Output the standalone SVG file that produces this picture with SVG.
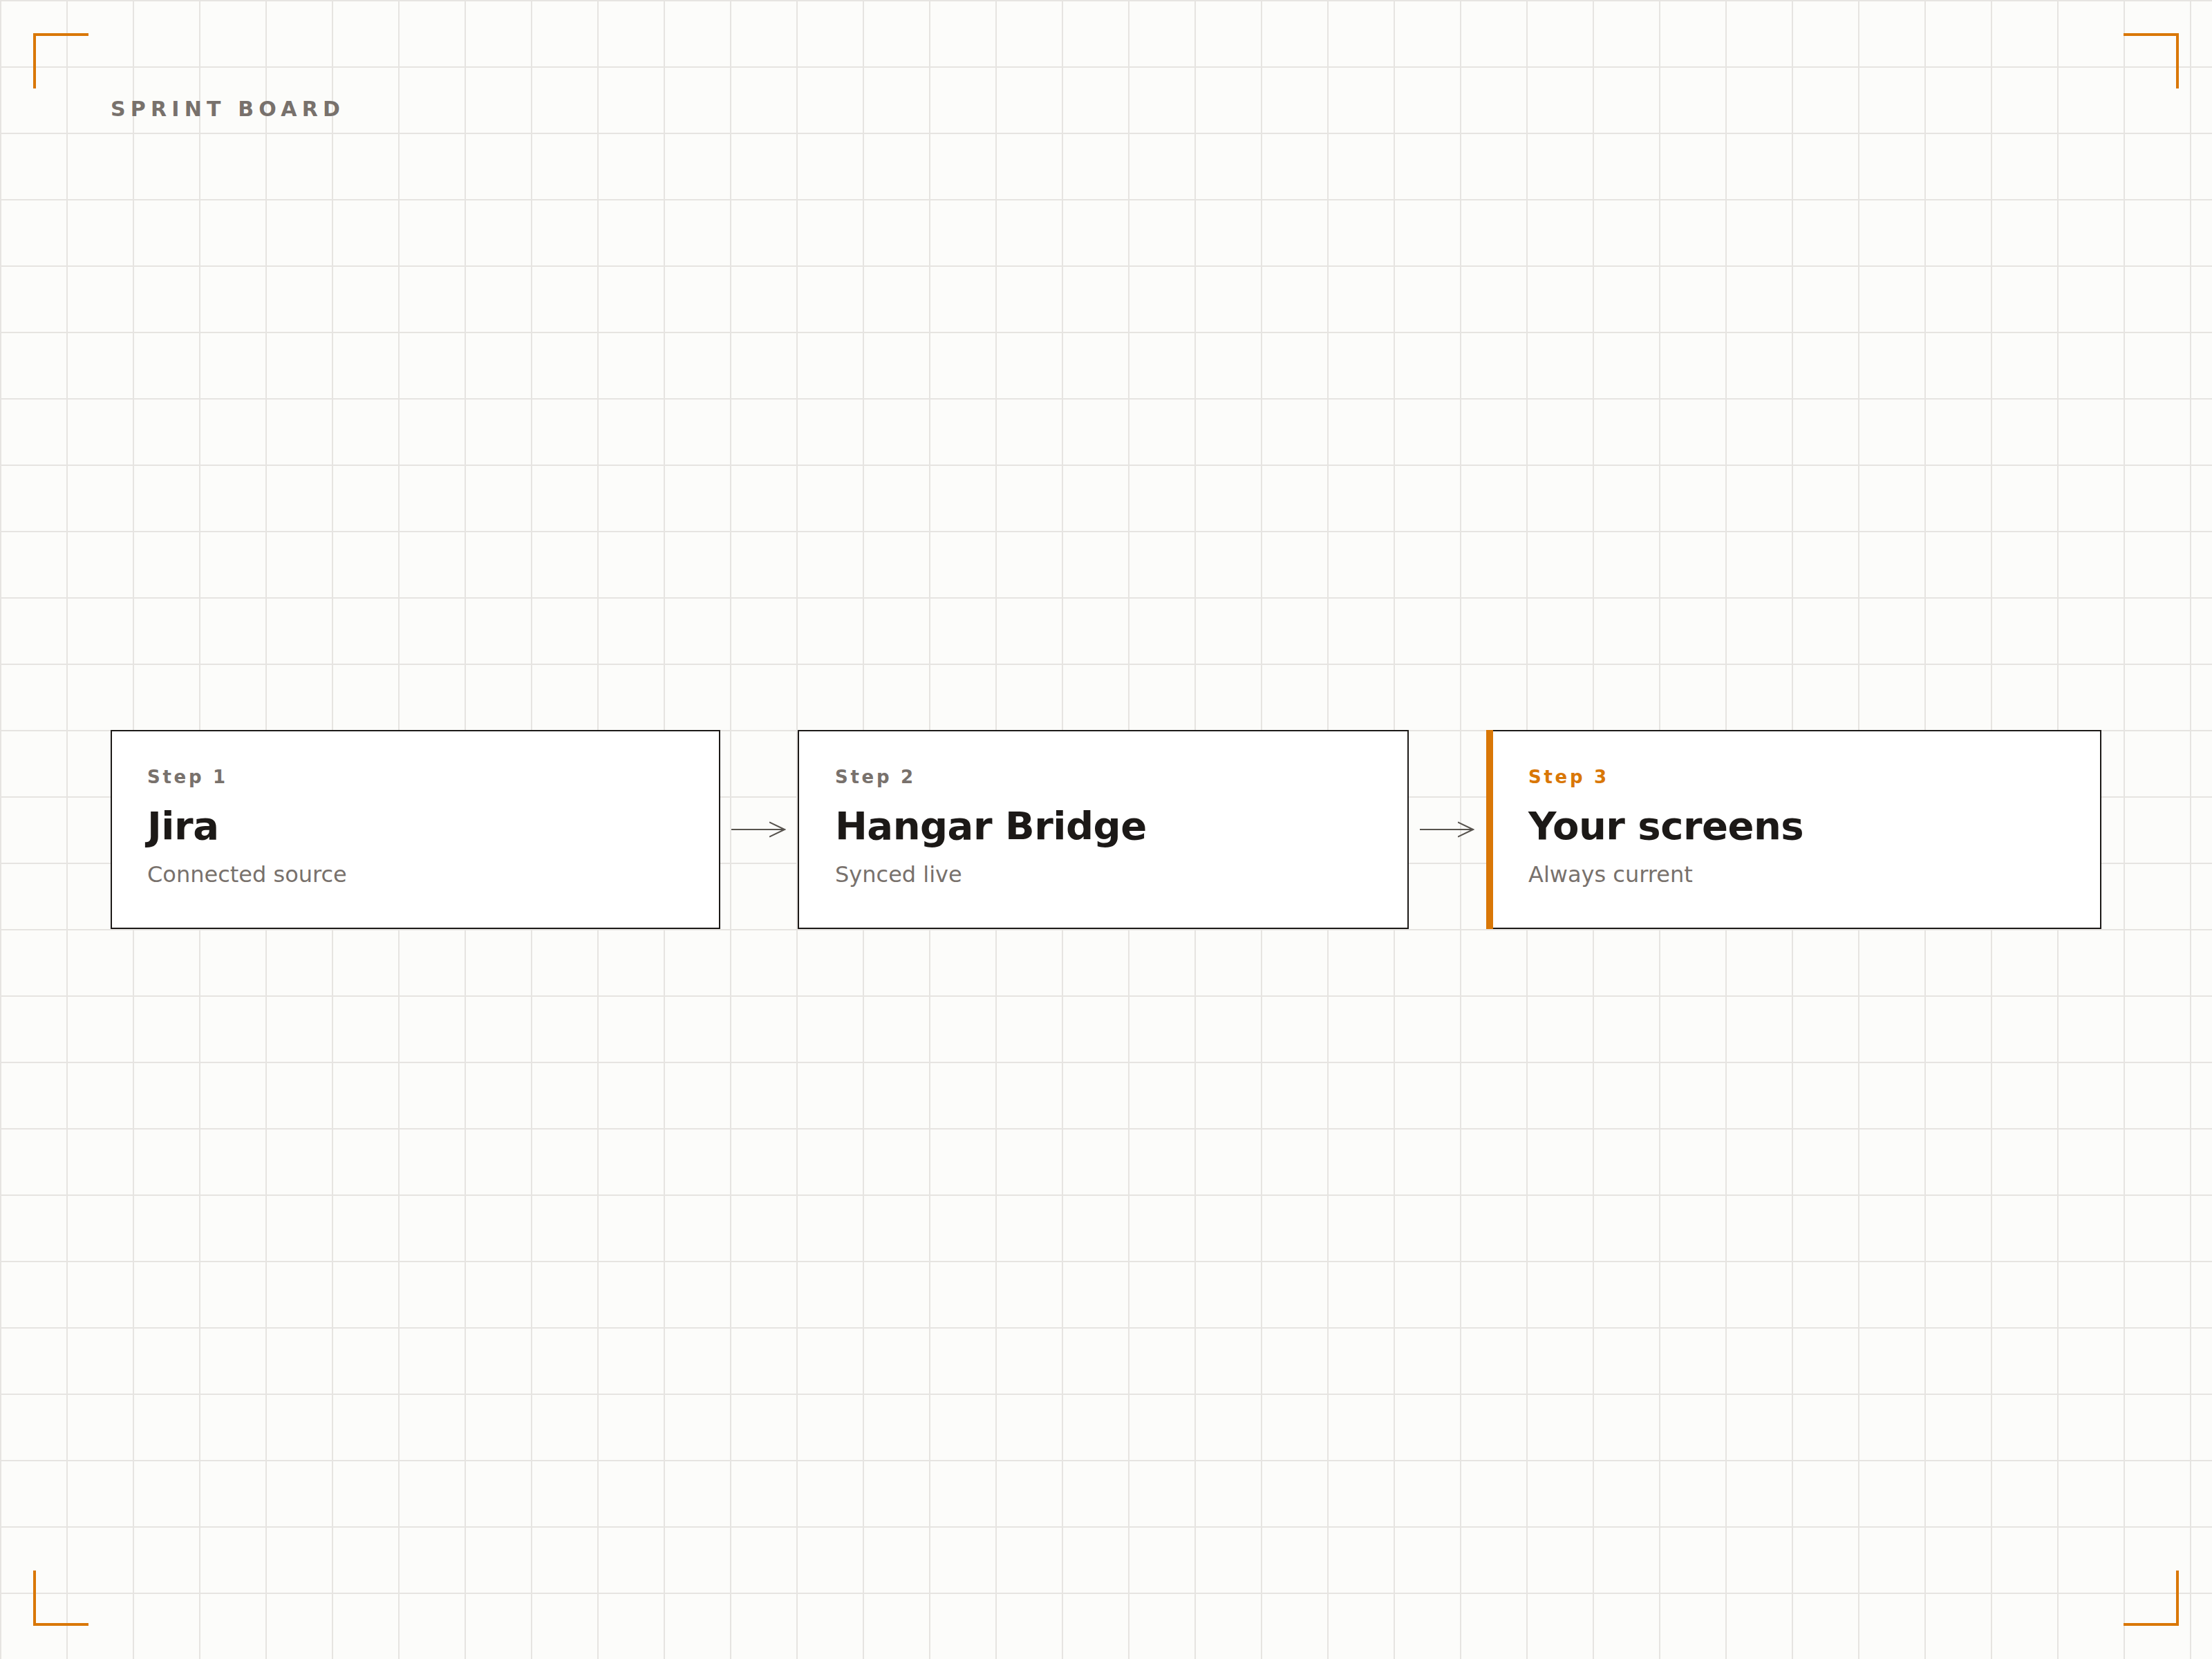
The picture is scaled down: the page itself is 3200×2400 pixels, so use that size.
<svg xmlns="http://www.w3.org/2000/svg" width="3200" height="2400" viewBox="0 0 3200 2400">
  <defs>
    <pattern id="grid" x="0" y="0" width="96" height="96" patternUnits="userSpaceOnUse">
      <path d="M0 1 H96 M1 0 V96" fill="none" stroke="#e6e4e1" stroke-width="2"/>
    </pattern>
    <marker id="chev" viewBox="0 0 24 24" markerWidth="24" markerHeight="24" refX="22" refY="12" orient="auto" markerUnits="userSpaceOnUse">
      <path d="M0 1.5 L22 12 L0 22.5" fill="none" stroke="#57534e" stroke-width="2"/>
    </marker>
  </defs>
  <style>
    .card { fill: #ffffff; stroke: #1c1917; stroke-width: 2; }
    .step { font-family: "DejaVu Sans", "Liberation Sans", sans-serif; font-weight: 700; font-size: 26px; letter-spacing: 3.7px; fill: #78716c; }
    .step.accent { fill: #d97706; }
    .title { font-family: "DejaVu Sans", "Liberation Sans", sans-serif; font-weight: 700; font-size: 56px; letter-spacing: -0.5px; fill: #1c1917; }
    .sub { font-family: "DejaVu Sans", "Liberation Sans", sans-serif; font-size: 32px; fill: #78716c; }
    .corner { fill: none; stroke: #d97706; stroke-width: 4; }
    .conn { fill: none; stroke: #57534e; stroke-width: 2; }
    .heading { font-family: "DejaVu Sans", "Liberation Sans", sans-serif; font-weight: 700; font-size: 30px; letter-spacing: 7.2px; fill: #78716c; }
  </style>
  <rect x="0" y="0" width="3200" height="2400" fill="#fcfcfa"/>
  <rect x="0" y="0" width="3200" height="2400" fill="url(#grid)"/>

  <g id="corners">
    <path class="corner" d="M50 128 V50 H128"/>
    <path class="corner" d="M3072 50 H3150 V128"/>
    <path class="corner" d="M50 2272 V2350 H128"/>
    <path class="corner" d="M3072 2350 H3150 V2272"/>
  </g>

  <text class="heading" x="160" y="168">SPRINT BOARD</text>

  <g id="connectors">
    <line class="conn" x1="1058" y1="1200" x2="1135" y2="1200" marker-end="url(#chev)"/>
    <line class="conn" x1="2054" y1="1200" x2="2131" y2="1200" marker-end="url(#chev)"/>
  </g>

  <g id="node-jira">
    <rect class="card" x="161" y="1057" width="880" height="286"/>
    <text class="step" x="213" y="1133">Step 1</text>
    <text class="title" x="213" y="1214">Jira</text>
    <text class="sub" x="213" y="1276">Connected source</text>
  </g>

  <g id="node-hangar">
    <rect class="card" x="1155" y="1057" width="882" height="286"/>
    <text class="step" x="1208" y="1133">Step 2</text>
    <text class="title" x="1208" y="1214">Hangar Bridge</text>
    <text class="sub" x="1208" y="1276">Synced live</text>
  </g>

  <g id="node-screens">
    <rect class="card" x="2151" y="1057" width="888" height="286"/>
    <rect x="2150" y="1056" width="10" height="288" fill="#d97706"/>
    <text class="step accent" x="2211" y="1133">Step 3</text>
    <text class="title" x="2211" y="1214">Your screens</text>
    <text class="sub" x="2211" y="1276">Always current</text>
  </g>
</svg>
